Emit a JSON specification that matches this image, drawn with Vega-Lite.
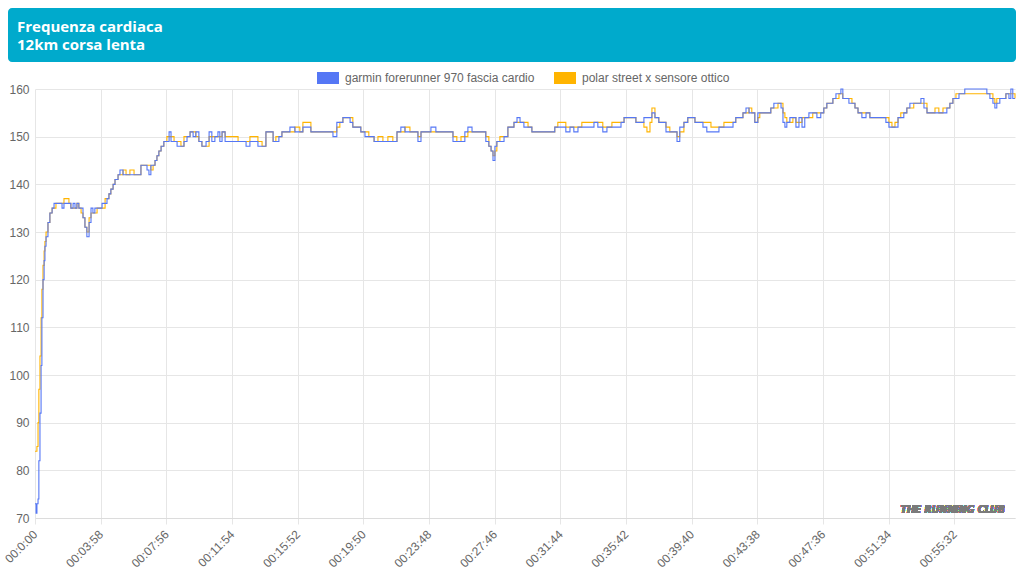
{
  "$schema": "https://vega.github.io/schema/vega-lite/v6.json",
  "padding": {"left": 2, "top": 8, "right": 8, "bottom": 0},
  "background": "white",
  "columns": 1,
  "spacing": -1,
  "config": {"view": {"stroke": null}, "font": "Liberation Sans"},
  "resolve": {"scale": {"color": "independent"}, "legend": {"color": "independent"}},
  "concat": [
    {
      "width": 981,
      "height": 54,
      "data": {"values": [{"title": "Frequenza cardiaca\n12km corsa lenta"}]},
      "layer": [
        {
          "mark": {"type": "rect", "color": "#00AACC", "cornerRadius": 4, "clip": false},
          "encoding": {
            "x": {"datum": -27, "type": "quantitative", "scale": {"domain": [0, 981], "nice": false, "zero": false}, "axis": null},
            "x2": {"datum": 981},
            "y": {"datum": 0, "type": "quantitative", "scale": {"domain": [0, 54], "nice": false}, "axis": null},
            "y2": {"datum": 54}
          }
        },
        {
          "mark": {"type": "text", "align": "left", "baseline": "top", "lineBreak": "\n", "lineHeight": 18, "font": "Open Sans", "fontWeight": "bold", "fontSize": 15, "color": "white", "dx": 9, "dy": 12},
          "encoding": {
            "x": {"datum": -27, "type": "quantitative"},
            "y": {"datum": 54, "type": "quantitative"},
            "text": {"field": "title"}
          }
        }
      ]
    },
    {
      "width": 980,
      "height": 429,
      "data": {"values": [
{"t":0,"g":73,"p":84},{"t":4,"g":71,"p":84},{"t":7,"g":73,"p":85},{"t":11,"g":74,"p":90},{"t":14,"g":82,"p":97},{"t":18,"g":92,"p":104},{"t":22,"g":102,"p":112},{"t":25,"g":112,"p":118},{"t":29,"g":120,"p":123},{"t":33,"g":124,"p":126},{"t":36,"g":127,"p":128},{"t":40,"g":129,"p":130},{"t":47,"g":132,"p":132},{"t":54,"g":134,"p":134},{"t":62,"g":135,"p":135},{"t":69,"g":136,"p":135},{"t":76,"g":136,"p":136},{"t":91,"g":136,"p":136},{"t":98,"g":135,"p":136},{"t":105,"g":136,"p":137},{"t":116,"g":136,"p":137},{"t":123,"g":136,"p":136},{"t":130,"g":135,"p":135},{"t":138,"g":136,"p":135},{"t":145,"g":135,"p":135},{"t":152,"g":136,"p":136},{"t":159,"g":135,"p":135},{"t":167,"g":135,"p":134},{"t":174,"g":133,"p":133},{"t":181,"g":131,"p":131},{"t":188,"g":129,"p":130},{"t":196,"g":132,"p":133},{"t":203,"g":135,"p":134},{"t":210,"g":134,"p":134},{"t":217,"g":135,"p":134},{"t":225,"g":135,"p":135},{"t":236,"g":135,"p":135},{"t":243,"g":136,"p":135},{"t":254,"g":136,"p":137},{"t":261,"g":137,"p":137},{"t":268,"g":138,"p":138},{"t":275,"g":139,"p":139},{"t":283,"g":140,"p":140},{"t":290,"g":141,"p":141},{"t":301,"g":142,"p":142},{"t":308,"g":143,"p":142},{"t":319,"g":142,"p":143},{"t":330,"g":142,"p":142},{"t":344,"g":142,"p":143},{"t":359,"g":142,"p":142},{"t":373,"g":142,"p":142},{"t":384,"g":144,"p":144},{"t":395,"g":144,"p":144},{"t":406,"g":143,"p":144},{"t":413,"g":142,"p":144},{"t":420,"g":144,"p":143},{"t":428,"g":144,"p":144},{"t":435,"g":145,"p":145},{"t":442,"g":146,"p":146},{"t":449,"g":147,"p":147},{"t":457,"g":148,"p":148},{"t":467,"g":149,"p":149},{"t":478,"g":149,"p":150},{"t":486,"g":151,"p":150},{"t":493,"g":149,"p":150},{"t":504,"g":149,"p":149},{"t":515,"g":148,"p":149},{"t":529,"g":148,"p":148},{"t":540,"g":149,"p":150},{"t":551,"g":150,"p":150},{"t":562,"g":151,"p":151},{"t":573,"g":150,"p":151},{"t":583,"g":151,"p":150},{"t":594,"g":149,"p":149},{"t":605,"g":148,"p":148},{"t":620,"g":149,"p":148},{"t":631,"g":151,"p":150},{"t":641,"g":149,"p":150},{"t":652,"g":150,"p":150},{"t":663,"g":151,"p":150},{"t":670,"g":149,"p":150},{"t":678,"g":151,"p":151},{"t":689,"g":149,"p":150},{"t":707,"g":149,"p":150},{"t":725,"g":149,"p":150},{"t":736,"g":149,"p":149},{"t":750,"g":149,"p":149},{"t":765,"g":148,"p":149},{"t":779,"g":149,"p":150},{"t":790,"g":149,"p":150},{"t":808,"g":148,"p":149},{"t":823,"g":148,"p":148},{"t":837,"g":151,"p":151},{"t":852,"g":151,"p":151},{"t":863,"g":149,"p":149},{"t":873,"g":149,"p":150},{"t":884,"g":150,"p":150},{"t":895,"g":151,"p":151},{"t":913,"g":151,"p":151},{"t":924,"g":152,"p":151},{"t":942,"g":151,"p":152},{"t":960,"g":151,"p":151},{"t":971,"g":152,"p":153},{"t":986,"g":152,"p":153},{"t":1000,"g":151,"p":151},{"t":1018,"g":151,"p":151},{"t":1040,"g":151,"p":151},{"t":1062,"g":151,"p":151},{"t":1080,"g":150,"p":151},{"t":1094,"g":153,"p":152},{"t":1105,"g":153,"p":153},{"t":1116,"g":154,"p":154},{"t":1131,"g":154,"p":154},{"t":1142,"g":153,"p":154},{"t":1152,"g":152,"p":152},{"t":1167,"g":152,"p":152},{"t":1181,"g":151,"p":151},{"t":1196,"g":150,"p":151},{"t":1210,"g":150,"p":150},{"t":1229,"g":149,"p":149},{"t":1243,"g":149,"p":150},{"t":1261,"g":149,"p":149},{"t":1279,"g":149,"p":150},{"t":1297,"g":149,"p":149},{"t":1312,"g":151,"p":151},{"t":1326,"g":152,"p":151},{"t":1341,"g":151,"p":152},{"t":1359,"g":151,"p":151},{"t":1377,"g":151,"p":151},{"t":1388,"g":149,"p":150},{"t":1399,"g":151,"p":151},{"t":1413,"g":151,"p":151},{"t":1435,"g":152,"p":151},{"t":1453,"g":151,"p":151},{"t":1468,"g":151,"p":151},{"t":1482,"g":151,"p":151},{"t":1500,"g":151,"p":151},{"t":1515,"g":149,"p":150},{"t":1529,"g":149,"p":149},{"t":1544,"g":149,"p":150},{"t":1558,"g":151,"p":150},{"t":1569,"g":152,"p":151},{"t":1584,"g":151,"p":151},{"t":1598,"g":151,"p":151},{"t":1613,"g":151,"p":151},{"t":1634,"g":149,"p":150},{"t":1645,"g":148,"p":148},{"t":1653,"g":147,"p":147},{"t":1660,"g":145,"p":146},{"t":1667,"g":148,"p":147},{"t":1674,"g":149,"p":149},{"t":1685,"g":149,"p":150},{"t":1700,"g":150,"p":150},{"t":1714,"g":152,"p":152},{"t":1725,"g":152,"p":152},{"t":1736,"g":153,"p":153},{"t":1747,"g":154,"p":153},{"t":1758,"g":153,"p":153},{"t":1772,"g":152,"p":153},{"t":1787,"g":152,"p":152},{"t":1801,"g":151,"p":151},{"t":1819,"g":151,"p":151},{"t":1837,"g":151,"p":151},{"t":1855,"g":151,"p":151},{"t":1874,"g":151,"p":151},{"t":1884,"g":152,"p":152},{"t":1895,"g":152,"p":153},{"t":1910,"g":152,"p":153},{"t":1924,"g":151,"p":152},{"t":1939,"g":152,"p":152},{"t":1953,"g":151,"p":152},{"t":1968,"g":152,"p":152},{"t":1982,"g":152,"p":153},{"t":1997,"g":152,"p":153},{"t":2011,"g":152,"p":153},{"t":2026,"g":153,"p":153},{"t":2040,"g":152,"p":153},{"t":2058,"g":151,"p":152},{"t":2073,"g":152,"p":152},{"t":2091,"g":152,"p":153},{"t":2109,"g":152,"p":153},{"t":2124,"g":153,"p":153},{"t":2135,"g":154,"p":154},{"t":2153,"g":154,"p":154},{"t":2167,"g":154,"p":154},{"t":2178,"g":153,"p":153},{"t":2193,"g":153,"p":153},{"t":2207,"g":154,"p":152},{"t":2218,"g":154,"p":151},{"t":2229,"g":154,"p":153},{"t":2236,"g":155,"p":156},{"t":2247,"g":154,"p":154},{"t":2261,"g":153,"p":153},{"t":2272,"g":153,"p":153},{"t":2287,"g":151,"p":152},{"t":2301,"g":151,"p":151},{"t":2316,"g":151,"p":151},{"t":2327,"g":149,"p":150},{"t":2337,"g":152,"p":151},{"t":2352,"g":153,"p":153},{"t":2366,"g":154,"p":154},{"t":2381,"g":154,"p":154},{"t":2392,"g":153,"p":153},{"t":2406,"g":153,"p":153},{"t":2421,"g":152,"p":153},{"t":2435,"g":151,"p":153},{"t":2450,"g":151,"p":152},{"t":2464,"g":151,"p":152},{"t":2479,"g":152,"p":152},{"t":2497,"g":152,"p":153},{"t":2515,"g":152,"p":153},{"t":2530,"g":153,"p":153},{"t":2540,"g":154,"p":154},{"t":2555,"g":154,"p":154},{"t":2566,"g":155,"p":155},{"t":2577,"g":156,"p":155},{"t":2588,"g":155,"p":156},{"t":2598,"g":155,"p":155},{"t":2609,"g":153,"p":153},{"t":2620,"g":155,"p":154},{"t":2627,"g":155,"p":155},{"t":2642,"g":155,"p":155},{"t":2656,"g":155,"p":155},{"t":2667,"g":156,"p":156},{"t":2678,"g":157,"p":156},{"t":2693,"g":157,"p":157},{"t":2704,"g":156,"p":157},{"t":2711,"g":153,"p":155},{"t":2718,"g":152,"p":154},{"t":2725,"g":153,"p":153},{"t":2736,"g":154,"p":153},{"t":2747,"g":154,"p":154},{"t":2758,"g":152,"p":153},{"t":2769,"g":154,"p":153},{"t":2780,"g":152,"p":154},{"t":2790,"g":154,"p":154},{"t":2805,"g":155,"p":154},{"t":2819,"g":155,"p":155},{"t":2834,"g":154,"p":155},{"t":2848,"g":155,"p":155},{"t":2859,"g":156,"p":156},{"t":2870,"g":157,"p":157},{"t":2881,"g":157,"p":157},{"t":2892,"g":158,"p":158},{"t":2903,"g":159,"p":158},{"t":2914,"g":159,"p":159},{"t":2921,"g":160,"p":159},{"t":2928,"g":158,"p":158},{"t":2939,"g":158,"p":158},{"t":2950,"g":157,"p":158},{"t":2961,"g":157,"p":157},{"t":2972,"g":156,"p":156},{"t":2983,"g":155,"p":155},{"t":2997,"g":154,"p":155},{"t":3012,"g":155,"p":155},{"t":3026,"g":154,"p":154},{"t":3041,"g":154,"p":154},{"t":3055,"g":154,"p":154},{"t":3070,"g":154,"p":154},{"t":3084,"g":153,"p":154},{"t":3095,"g":152,"p":153},{"t":3106,"g":152,"p":152},{"t":3117,"g":152,"p":153},{"t":3128,"g":154,"p":154},{"t":3138,"g":154,"p":155},{"t":3149,"g":155,"p":155},{"t":3160,"g":156,"p":156},{"t":3171,"g":157,"p":156},{"t":3185,"g":157,"p":157},{"t":3200,"g":157,"p":157},{"t":3211,"g":158,"p":157},{"t":3222,"g":156,"p":157},{"t":3233,"g":155,"p":155},{"t":3247,"g":155,"p":155},{"t":3262,"g":155,"p":156},{"t":3276,"g":155,"p":155},{"t":3291,"g":155,"p":156},{"t":3305,"g":156,"p":156},{"t":3316,"g":157,"p":157},{"t":3327,"g":158,"p":158},{"t":3338,"g":158,"p":159},{"t":3349,"g":159,"p":159},{"t":3359,"g":159,"p":159},{"t":3370,"g":160,"p":159},{"t":3388,"g":160,"p":159},{"t":3407,"g":160,"p":159},{"t":3425,"g":160,"p":159},{"t":3439,"g":160,"p":159},{"t":3450,"g":159,"p":159},{"t":3461,"g":158,"p":159},{"t":3472,"g":157,"p":158},{"t":3479,"g":156,"p":157},{"t":3486,"g":157,"p":158},{"t":3497,"g":158,"p":158},{"t":3508,"g":158,"p":158},{"t":3519,"g":159,"p":159},{"t":3530,"g":158,"p":159},{"t":3537,"g":160,"p":159},{"t":3544,"g":158,"p":159},{"t":3552,"g":158,"p":158}
      ]},
      "encoding": {
        "x": {
          "field": "t", "type": "quantitative",
          "scale": {"domain": [0, 3552], "nice": false, "zero": false},
          "axis": {
            "title": null,
            "values": [0, 238, 476, 714, 952, 1190, 1428, 1666, 1904, 2142, 2380, 2618, 2856, 3094, 3332],
            "labelExpr": "datum.value == 0 ? '00:0:00' : utcFormat(datum.value * 1000, '00:%M:%S')",
            "labelAngle": -45, "labelAlign": "right", "labelBaseline": "middle",
            "labelPadding": 8, "labelFontSize": 12, "labelColor": "#666666", "labelFont": "Liberation Sans",
            "grid": true, "gridColor": "#e6e6e6", "gridWidth": 1,
            "ticks": true, "tickColor": "#e6e6e6", "tickSize": 6,
            "domain": true, "domainColor": "#dcdcdc", "labelOverlap": false
          }
        }
      },
      "layer": [
        {
          "mark": {"type": "line", "interpolate": "step-after", "strokeWidth": 1.1},
          "encoding": {
            "y": {
              "field": "p", "type": "quantitative",
              "scale": {"domain": [70, 160], "nice": false, "zero": false},
              "axis": {
                "title": null, "values": [70, 80, 90, 100, 110, 120, 130, 140, 150, 160],
                "labelPadding": 6, "labelFontSize": 12, "labelColor": "#666666", "labelFont": "Liberation Sans",
                "grid": true, "gridColor": "#e6e6e6", "ticks": false, "domain": false
              }
            },
            "color": {
              "datum": "polar street x sensore ottico",
              "type": "nominal",
              "scale": {"domain": ["garmin forerunner 970 fascia cardio", "polar street x sensore ottico"], "range": ["#5577F5", "#FFB400"]},
              "legend": {
                "title": null, "orient": "none", "direction": "horizontal",
                "legendX": 276, "legendY": -28,
                "symbolType": "M-1,0H1", "symbolSize": 484, "symbolStrokeWidth": 12, "symbolOpacity": 1,
                "labelFontSize": 12, "labelColor": "#666666", "labelFont": "Liberation Sans", "labelLimit": 400,
                "labelOffset": 0, "columnPadding": -5
              }
            }
          }
        },
        {
          "mark": {"type": "line", "interpolate": "step-after", "strokeWidth": 1.1},
          "encoding": {
            "y": {"field": "g", "type": "quantitative"},
            "color": {"datum": "garmin forerunner 970 fascia cardio", "type": "nominal"}
          }
        },
        {
          "mark": {"type": "text", "text": "THE RUNNING CLUB", "align": "right", "baseline": "bottom", "font": "DejaVu Sans Condensed, Liberation Sans", "fontStyle": "italic", "fontWeight": "bold", "fontSize": 10.5, "color": "#7a7a7a", "dx": -10, "dy": -3},
          "encoding": {
            "x": {"datum": 3552, "type": "quantitative"},
            "y": {"datum": 70, "type": "quantitative"}
          }
        }
      ]
    }
  ]
}
